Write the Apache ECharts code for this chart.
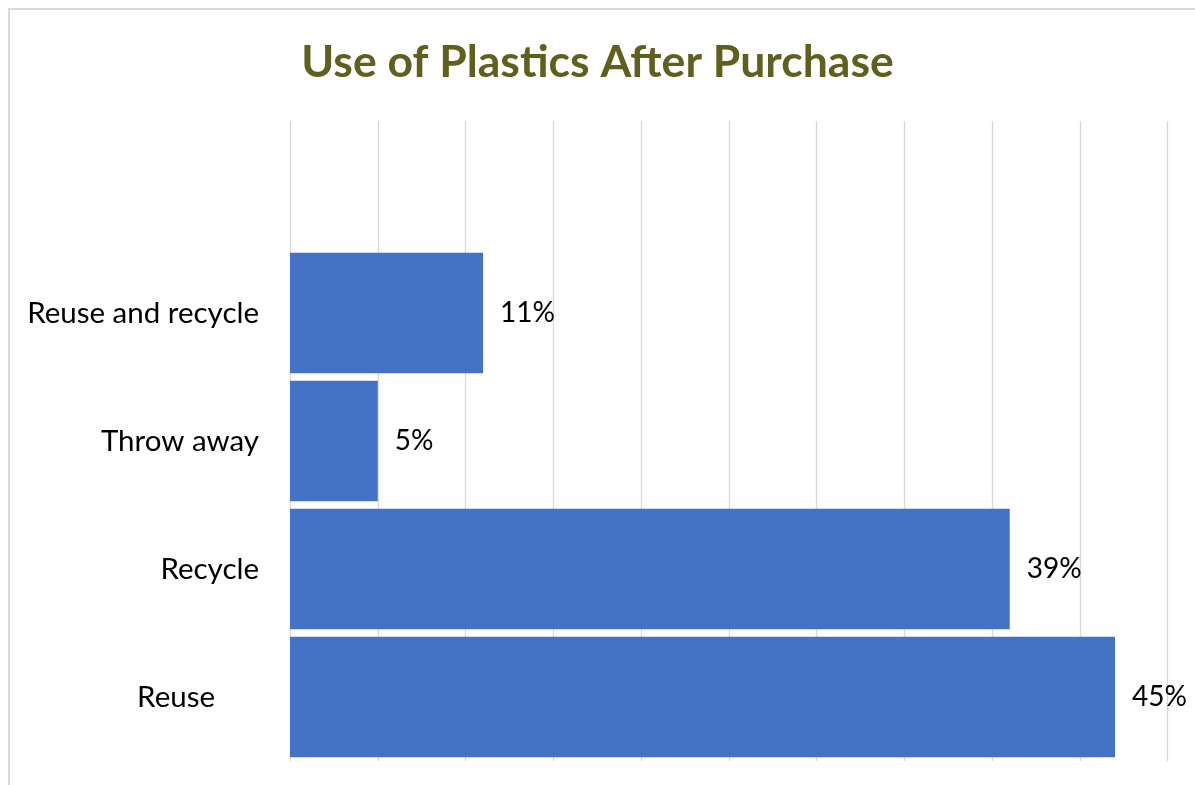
<!DOCTYPE html>
<html>
<head>
<meta charset="utf-8">
<script src="https://cdn.jsdelivr.net/npm/echarts@6/dist/echarts.min.js"></script>
<style>
html,body{margin:0;padding:0;background:#fff;}
#chart{width:1195px;height:785px;}
</style>
</head>
<body>
<div id="chart"></div>
<script>
// Categories listed bottom to top; the last one is an empty row of the source table
const categories = ['Reuse', 'Recycle', 'Throw away', 'Reuse and recycle', ''];
// Respondent counts per answer
const counts = [47, 41, 5, 11, null];
const axisTicks = { min: 0, max: 50, interval: 5 };
const titleText = 'Use of Plastics After Purchase';

const total = counts.reduce((s, v) => s + (v || 0), 0);

const chart = echarts.init(document.getElementById('chart'), null, { renderer: 'canvas' });
chart.setOption({
  backgroundColor: '#ffffff',
  animation: false,
  title: {
    text: titleText,
    left: 'center',
    top: 35,
    textStyle: { fontFamily: 'Lato', fontWeight: 'bold', fontSize: 44.5, color: '#5f5f1e' }
  },
  graphic: [{
    type: 'rect',
    shape: { x: 9, y: 9, width: 1300, height: 900 },
    style: { fill: 'none', stroke: '#d9d9d9', lineWidth: 2 },
    silent: true, z: 100
  }],
  grid: { left: 290, right: 27.3, top: 121, bottom: 24, containLabel: false },
  xAxis: {
    type: 'value',
    min: axisTicks.min, max: axisTicks.max, interval: axisTicks.interval,
    axisLabel: { show: false },
    axisLine: { show: false },
    axisTick: { show: false },
    splitLine: { show: true, lineStyle: { color: '#d9d9d9', width: 1.3 } }
  },
  yAxis: {
    type: 'category',
    data: categories,
    axisLine: { show: false },
    axisTick: { show: false },
    axisLabel: {
      margin: 31,
      fontFamily: 'Lato', fontSize: 29.5, color: '#000000',
      formatter: v => v === 'Reuse' ? '{pad|' + v + '}' : v,
      rich: { pad: { fontFamily: 'Lato', fontSize: 29.5, color: '#000000', padding: [0, 44, 0, 0] } }
    }
  },
  series: [{
    type: 'bar',
    data: counts,
    barCategoryGap: '6%',
    itemStyle: { color: '#4472c4' },
    label: {
      show: true,
      position: 'right',
      distance: 17,
      fontFamily: 'Lato', fontSize: 28, color: '#000000',
      formatter: p => p.value == null ? '' : Math.round(p.value / total * 100) + '%'
    }
  }]
});
</script>
</body>
</html>
